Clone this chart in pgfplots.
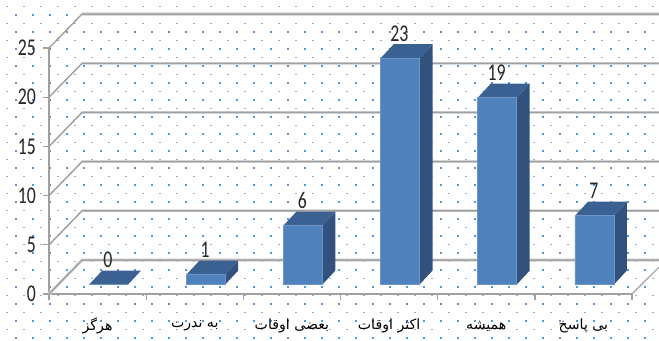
\documentclass[border=0pt]{standalone}
\usepackage{pgfplots}
\pgfplotsset{compat=1.18}
\usepackage{fontspec}
\setmainfont{Carlito}
\newfontfamily\arabicfont[Script=Arabic]{DejaVu Sans}
\TeXXeTstate=1
\definecolor{dotA}{HTML}{4F97DE}
\definecolor{dotB}{HTML}{7FB5E9}
\definecolor{gridc}{HTML}{A0A0A0}
\definecolor{gridh}{HTML}{DCDCDC}
\definecolor{front}{HTML}{4F81BD}
\definecolor{edgec}{HTML}{6D95C6}
\definecolor{sidec}{HTML}{31527C}
\definecolor{topc}{HTML}{3A6191}
\newcommand{\fa}{\arabicfont\fontsize{10.6pt}{11pt}\selectfont}
\begin{document}
\begin{tikzpicture}
\useasboundingbox (-36.75pt,-34.5pt) rectangle (457.5pt,220.5pt);
\begin{scope}[shift={(-36.75pt,220.5pt)},x=.75pt,y=-.75pt]
\foreach \j in {0,...,19}{\foreach \i in {0,...,38}{
  \fill[dotA] ({15*1+17*\i},{14+17*\j}) rectangle ++(2.2,2.2);
  \fill[dotB] ({6+17*\i},{5.8+17*\j}) rectangle ++(2.2,1.5);
}}
\end{scope}
\begin{axis}[
  at={(0,0)},anchor=south west,
  scale only axis,width=437.25pt,height=184.5pt,
  xmin=-0.5,xmax=5.5,ymin=0,ymax=25,clip=false,
  axis x line=bottom,axis y line=left,
  axis line style={-,draw=gridc,line width=1.2pt},
  ytick={0,5,10,15,20,25},
  xtick={0,1,2,3,4,5},
  xticklabels={{\fa\beginR هرگز\endR},{\fa\beginR به ندرت\endR},{\fa\beginR بعضی اوقات\endR},{\fa\beginR اکثر اوقات\endR},{\fa\beginR همیشه\endR},{\fa\beginR بی پاسخ\endR}},
  minor xtick={-0.5,0.5,1.5,2.5,3.5,4.5,5.5},
  major x tick style={draw=none},
  minor x tick style={draw=gridc,line width=1pt},
  y tick style={draw=gridc,line width=1pt},
  tick align=outside,
  major tick length=4.5pt,minor tick length=4.5pt,
  x tick label style={anchor=center,yshift=-19.5pt,text=black},
  yticklabel={\scalebox{0.74}[1]{\pgfmathprintnumber[assume math mode=true]{\tick}}},
  y tick label style={font=\fontsize{18pt}{18pt}\selectfont,text=black!85,xshift=-1.8pt},
]
% back wall and side gridlines
\addplot[gridh,line width=2.4pt] coordinates {(-0.5,0)(-0.16,3.45)(5.78,3.45)};
\addplot[gridh,line width=2.4pt] coordinates {(-0.16,8.45)(5.78,8.45)};
\addplot[gridh,line width=2.4pt] coordinates {(-0.16,13.45)(5.78,13.45)};
\addplot[gridh,line width=2.4pt] coordinates {(-0.16,18.45)(5.78,18.45)};
\addplot[gridh,line width=2.4pt] coordinates {(-0.16,23.45)(5.78,23.45)};
\addplot[gridh,line width=2.4pt] coordinates {(-0.16,28.45)(5.78,28.45)};
\addplot[gridc,line width=1.1pt] coordinates {(-0.5,0)(-0.16,3.45)(5.78,3.45)};
\addplot[gridc,line width=1.1pt] coordinates {(-0.5,5)(-0.16,8.45)(5.78,8.45)};
\addplot[gridc,line width=1.1pt] coordinates {(-0.5,10)(-0.16,13.45)(5.78,13.45)};
\addplot[gridc,line width=1.1pt] coordinates {(-0.5,15)(-0.16,18.45)(5.78,18.45)};
\addplot[gridc,line width=1.1pt] coordinates {(-0.5,20)(-0.16,23.45)(5.78,23.45)};
\addplot[gridc,line width=1.1pt] coordinates {(-0.5,25)(-0.16,28.45)(5.78,28.45)};
\addplot[gridc,line width=0.9pt] coordinates {(5.5,0)(5.78,2.75)};
% bar sides and tops
\pgfplotsset{barplane/.style={xshift=8.25pt,yshift=7.1pt}}
\addplot[barplane,fill=topc,draw=none] coordinates {(-0.2,0)(0.2,0)(0.334,1.42)(-0.066,1.42)} --cycle;
\addplot[barplane,fill=sidec,draw=none] coordinates {(1.2,0)(1.334,1.42)(1.334,2.42)(1.2,1)} --cycle;
\addplot[barplane,fill=topc,draw=none] coordinates {(0.8,1)(1.2,1)(1.334,2.42)(0.934,2.42)} --cycle;
\addplot[barplane,fill=sidec,draw=none] coordinates {(2.2,0)(2.334,1.42)(2.334,7.42)(2.2,6)} --cycle;
\addplot[barplane,fill=topc,draw=none] coordinates {(1.8,6)(2.2,6)(2.334,7.42)(1.934,7.42)} --cycle;
\addplot[barplane,fill=sidec,draw=none] coordinates {(3.2,0)(3.334,1.42)(3.334,24.42)(3.2,23)} --cycle;
\addplot[barplane,fill=topc,draw=none] coordinates {(2.8,23)(3.2,23)(3.334,24.42)(2.934,24.42)} --cycle;
\addplot[barplane,fill=sidec,draw=none] coordinates {(4.2,0)(4.334,1.42)(4.334,20.42)(4.2,19)} --cycle;
\addplot[barplane,fill=topc,draw=none] coordinates {(3.8,19)(4.2,19)(4.334,20.42)(3.934,20.42)} --cycle;
\addplot[barplane,fill=sidec,draw=none] coordinates {(5.2,0)(5.334,1.42)(5.334,8.42)(5.2,7)} --cycle;
\addplot[barplane,fill=topc,draw=none] coordinates {(4.8,7)(5.2,7)(5.334,8.42)(4.934,8.42)} --cycle;
% front faces with values
\addplot[ybar,bar width=29.25pt,bar shift=0pt,barplane,fill=front,draw=edgec,line width=0.4pt,
  point meta=y,
  nodes near coords={\scalebox{0.74}[1]{\pgfmathprintnumber[assume math mode=true]{\pgfplotspointmeta}}},
  nodes near coords style={font=\fontsize{18pt}{18pt}\selectfont,text=black!85,anchor=center,yshift=18.5pt,xshift=-0.5pt}]
  coordinates {(0,0) (1,1) (2,6) (3,23) (4,19) (5,7)};
\end{axis}
\end{tikzpicture}
\end{document}
